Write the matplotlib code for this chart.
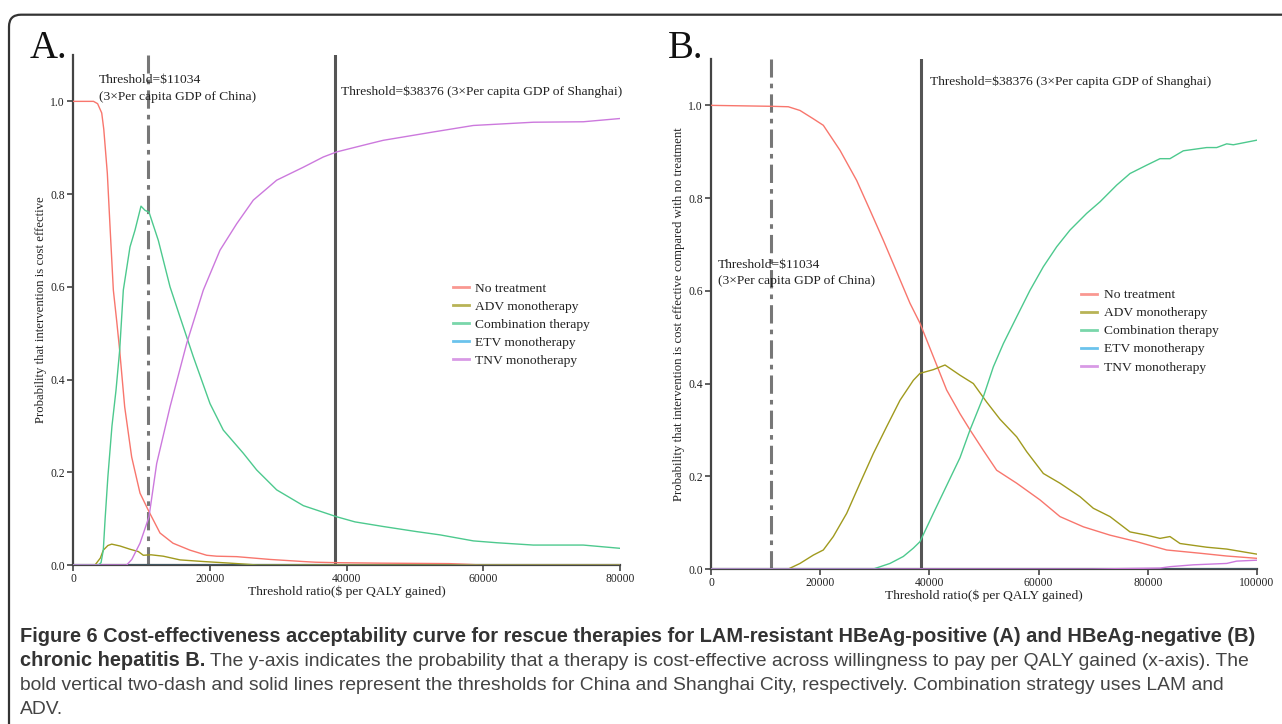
import matplotlib.pyplot as plt
from matplotlib.patches import FancyBboxPatch

plt.rcParams['font.family'] = ['Liberation Serif', 'DejaVu Serif']

# legend order and colours (muted ggplot hue palette)
names = ['No treatment', 'ADV monotherapy', 'Combination therapy',
         'ETV monotherapy', 'TNV monotherapy']
colors = ['#F8766D', '#A09A1E', '#4DC98E', '#3AAFE6', '#CC79DD']

china_thr = 11034
shanghai_thr = 38376

# ---- panel A: HBeAg-positive ----
a_none_x = [0, 3000, 3600, 4200, 4500, 5020, 5450, 5900, 6400, 6825, 7560, 8580,
            9800, 11115, 12725, 14625, 17110, 19550, 21000, 23940, 28810, 33640,
            35500, 38570, 45000, 55000, 60000, 80000]
a_none_y = [1.0, 1.0, 0.995, 0.975, 0.94, 0.845, 0.72, 0.593, 0.525, 0.463, 0.341, 0.233,
            0.155, 0.115, 0.069, 0.047, 0.032, 0.021, 0.019, 0.018, 0.012, 0.0075,
            0.006, 0.005, 0.004, 0.003, 0.0, 0.0]

a_adv_x = [0, 3220, 4000, 4430, 5100, 5660, 6875, 8335, 9550, 10285, 11410, 13200,
           15650, 19060, 22980, 27000, 80000]
a_adv_y = [0.0, 0.0, 0.015, 0.032, 0.042, 0.045, 0.041, 0.034, 0.029, 0.021, 0.022, 0.019,
           0.011, 0.0075, 0.004, 0.0, 0.0]

a_comb_x = [0, 3700, 4100, 4430, 4700, 5100, 5700, 6290, 6825, 7360, 8335, 9065, 9945,
            10530, 11115, 12480, 14190, 15650, 17600, 20040, 21980, 24910, 26860,
            29790, 33690, 38570, 41240, 45380, 50260, 53670, 58550, 62000, 67320,
            74630, 80000]
a_comb_y = [0.0, 0.0, 0.005, 0.032, 0.10, 0.19, 0.30, 0.377, 0.463, 0.593, 0.686, 0.722, 0.774,
            0.765, 0.761, 0.700, 0.600, 0.535, 0.449, 0.348, 0.291, 0.241, 0.205,
            0.162, 0.128, 0.104, 0.093, 0.083, 0.072, 0.065, 0.052, 0.048, 0.043,
            0.043, 0.036]

a_etv_x = [0, 80000]
a_etv_y = [0.0, 0.0]

a_tnv_x = [0, 7850, 8600, 9800, 11115, 12240, 14190, 16630, 19060, 21500, 23940,
           26370, 29790, 33690, 36600, 38570, 43440, 45380, 52700, 58550, 67320,
           74630, 80000]
a_tnv_y = [0.0, 0.0, 0.012, 0.047, 0.104, 0.219, 0.341, 0.478, 0.593, 0.679, 0.736,
           0.787, 0.830, 0.858, 0.880, 0.891, 0.909, 0.916, 0.934, 0.948, 0.955,
           0.956, 0.963]

# ---- panel B: HBeAg-negative ----
b_none_x = [0, 11000, 14160, 16300, 18740, 20570, 23630, 26680, 29120, 31560, 34010,
            36450, 38280, 40720, 43160, 45600, 47440, 49870, 52320, 55990, 60260,
            63920, 68190, 73080, 77960, 83460, 89560, 94450, 100000]
b_none_y = [1.0, 0.998, 0.997, 0.989, 0.971, 0.957, 0.903, 0.838, 0.774, 0.709, 0.641,
            0.573, 0.530, 0.458, 0.386, 0.335, 0.300, 0.256, 0.213, 0.185, 0.149,
            0.113, 0.091, 0.073, 0.059, 0.041, 0.034, 0.028, 0.023]

b_adv_x = [0, 14160, 16300, 18740, 20570, 22400, 24850, 27290, 29730, 32170, 34620,
           37060, 38280, 40720, 42860, 45600, 48050, 50490, 52930, 55990, 57820,
           60870, 63920, 67580, 70020, 73080, 76740, 79790, 82230, 84060, 85900,
           90780, 94450, 100000]
b_adv_y = [0.0, 0.0, 0.012, 0.030, 0.041, 0.070, 0.120, 0.185, 0.249, 0.307, 0.364,
           0.407, 0.422, 0.430, 0.440, 0.418, 0.400, 0.360, 0.323, 0.285, 0.253,
           0.206, 0.185, 0.156, 0.131, 0.113, 0.080, 0.073, 0.066, 0.070, 0.055,
           0.047, 0.043, 0.032]

b_comb_x = [0, 29730, 32780, 35220, 37060, 38280, 40720, 43160, 45600, 47440, 49870,
            51710, 53540, 55990, 58420, 60870, 63310, 65750, 68800, 71250, 74300,
            76740, 79790, 82230, 84060, 86510, 90780, 92620, 94450, 95670, 100000]
b_comb_y = [0.0, 0.0, 0.012, 0.027, 0.045, 0.059, 0.120, 0.180, 0.240, 0.300, 0.371,
            0.436, 0.486, 0.544, 0.601, 0.652, 0.695, 0.731, 0.767, 0.792, 0.828,
            0.853, 0.871, 0.885, 0.885, 0.902, 0.909, 0.909, 0.917, 0.915, 0.925]

b_etv_x = [0, 100000]
b_etv_y = [0.0, 0.0]

b_tnv_x = [0, 70000, 82230, 84060, 88340, 94450, 96280, 100000]
b_tnv_y = [0.0, 0.0, 0.002, 0.005, 0.009, 0.012, 0.017, 0.019]

fig = plt.figure(figsize=(12.82, 7.24), dpi=100)
axA = fig.add_axes([73 / 1282, 159 / 724, 547 / 1282, 510 / 724])
axB = fig.add_axes([711 / 1282, 155 / 724, 546 / 1282, 510 / 724])

panels = [
    (axA, [(a_none_x, a_none_y), (a_adv_x, a_adv_y), (a_comb_x, a_comb_y),
           (a_etv_x, a_etv_y), (a_tnv_x, a_tnv_y)], 80000,
     'Probability that intervention is cost effective'),
    (axB, [(b_none_x, b_none_y), (b_adv_x, b_adv_y), (b_comb_x, b_comb_y),
           (b_etv_x, b_etv_y), (b_tnv_x, b_tnv_y)], 100000,
     'Probability that intervention is cost effective compared with no treatment'),
]

for ax, series, xmax, ylab in panels:
    for (xs, ys), nm, c in zip(series, names, colors):
        ax.plot(xs, ys, color=c, lw=1.0, label=nm, zorder=3)
    ax.axvline(china_thr, color='#777777', lw=2.2,
               linestyle=(0, (6, 2, 1.5, 2)), zorder=2)
    ax.axvline(shanghai_thr, color='#555555', lw=2.2, zorder=2)
    ax.set_xlim(0, xmax)
    ax.set_ylim(0, 1.1)
    ax.set_yticks([0, 0.2, 0.4, 0.6, 0.8, 1.0])
    ax.set_yticklabels(['0.0', '0.2', '0.4', '0.6', '0.8', '1.0'])
    ax.set_xticks(list(range(0, xmax + 1, 20000)))
    ax.spines['top'].set_visible(False)
    ax.spines['right'].set_visible(False)
    for s in ('left', 'bottom'):
        ax.spines[s].set_linewidth(1.6)
        ax.spines[s].set_color('#444444')
    ax.tick_params(direction='out', length=4, width=1.2, color='#444444',
                   labelsize=8.4, labelcolor='#222222', pad=2)
    ax.set_xlabel('Threshold ratio($ per QALY gained)', fontsize=9.7,
                  color='#222222', labelpad=0)
    ax.set_ylabel(ylab, fontsize=9.2, color='#222222', labelpad=2)
    ax.set_facecolor('none')

legA = axA.legend(loc='upper left', bbox_to_anchor=(0.684, 0.565), frameon=False,
                  fontsize=9.7, handlelength=1.2, handletextpad=0.5,
                  labelspacing=0.42, borderaxespad=0)
legB = axB.legend(loc='upper left', bbox_to_anchor=(0.668, 0.56), frameon=False,
                  fontsize=9.7, handlelength=1.2, handletextpad=0.5,
                  labelspacing=0.42, borderaxespad=0)
for leg in (legA, legB):
    for ln in leg.get_lines():
        ln.set_linewidth(2.0)
        ln.set_alpha(0.75)
    for t in leg.get_texts():
        t.set_color('#222222')

# threshold annotations
txt = dict(fontsize=9.7, color='#222222', va='center', ha='left')
axA.text(3803, 1.045, 'Threshold=$11034', **txt)
axA.text(3803, 1.009, '(3×Per capita GDP of China)', **txt)
axA.text(39196, 1.021, 'Threshold=$38376 (3×Per capita GDP of Shanghai)', **txt)
axB.text(40110, 1.052, 'Threshold=$38376 (3×Per capita GDP of Shanghai)', **txt)
axB.text(1282, 0.655, 'Threshold=$11034', **txt)
axB.text(1282, 0.621, '(3×Per capita GDP of China)', **txt)

# panel letters
fig.text(30 / 1282, 1 - 58 / 724, 'A.', fontsize=28, va='baseline', color='#111111')
fig.text(668 / 1282, 1 - 58 / 724, 'B.', fontsize=28, va='baseline', color='#111111')

# outer rounded frame
frame = FancyBboxPatch((9, -40), 1320, 749.3, boxstyle='round,pad=0,rounding_size=12',
                       transform=None, fill=False, edgecolor='#333333', lw=1.6,
                       clip_on=False)
fig.add_artist(frame)

# caption
cap_font = ['Liberation Sans', 'DejaVu Sans']
cx = 20 / 1282
cs_b = 14.4
cs = 13.9
fig.text(cx, 1 - 637 / 724,
         'Figure 6 Cost-effectiveness acceptability curve for rescue therapies for '
         'LAM-resistant HBeAg-positive (A) and HBeAg-negative (B)',
         fontsize=cs_b, fontweight='bold', family=cap_font, color='#333333', va='center')
tb = fig.text(cx, 1 - 661 / 724, 'chronic hepatitis B.', fontsize=cs_b, fontweight='bold',
              family=cap_font, color='#333333', va='center')
axA.annotate(' The y-axis indicates the probability that a therapy is cost-effective across '
             'willingness to pay per QALY gained (x-axis). The',
             xy=(1, 0.5), xycoords=tb, va='center', ha='left', fontsize=cs,
             family=cap_font, color='#444444', annotation_clip=False)
fig.text(cx, 1 - 685 / 724,
         'bold vertical two-dash and solid lines represent the thresholds for China and '
         'Shanghai City, respectively. Combination strategy uses LAM and',
         fontsize=cs, family=cap_font, color='#444444', va='center')
fig.text(cx, 1 - 709 / 724, 'ADV.', fontsize=cs, family=cap_font, color='#444444',
         va='center')

fig.savefig('out.png', dpi=100)
